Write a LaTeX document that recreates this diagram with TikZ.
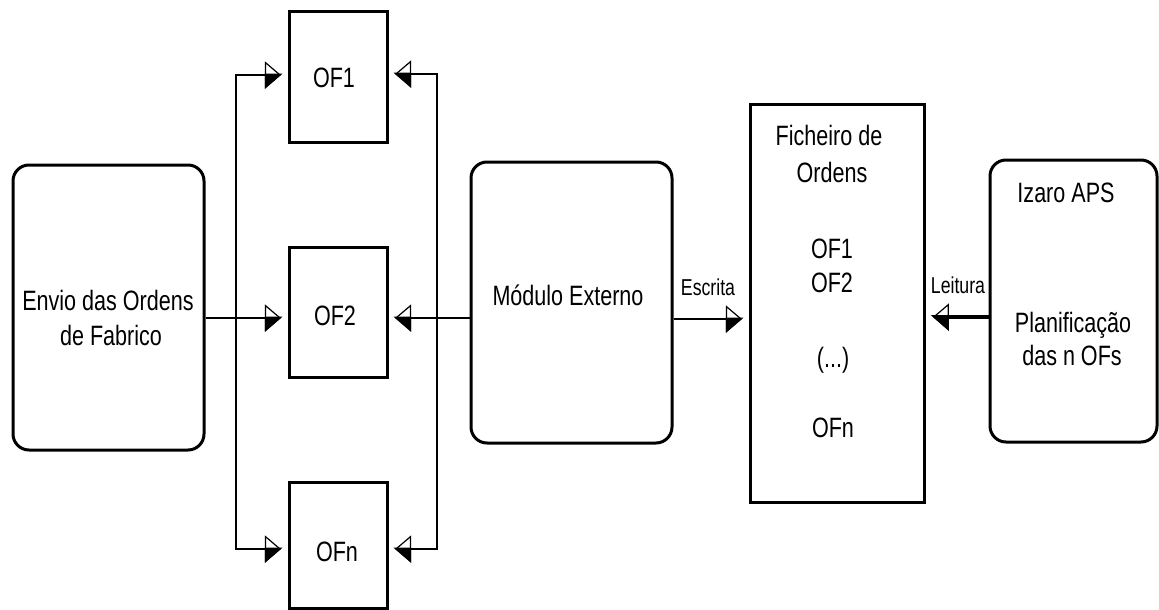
\documentclass[tikz,border=0pt]{standalone}
\usepackage{fontspec}
\setmainfont{Liberation Sans}[FakeStretch=0.77]
\usetikzlibrary{arrows.meta}
\begin{document}
\begin{tikzpicture}[x=1pt,y=-1pt,
  box/.style={draw, line width=3pt, inner sep=0pt},
  rbox/.style={box, rounded corners=16pt},
  txt/.style={font=\fontsize{28}{34}\selectfont, inner sep=0pt, anchor=base},
  lbl/.style={font=\fontsize{23}{28}\selectfont, inner sep=0pt, anchor=base},
  conn/.style={line width=2.6pt, line join=miter},
  tipR/.tip={Triangle[open, length=16pt, width=27pt, line width=1.2pt, sep=-16pt] Triangle[harpoon, swap, length=16pt, width=27pt]},
  tipL/.tip={Triangle[open, length=16pt, width=27pt, line width=1.2pt, sep=-16pt] Triangle[harpoon, length=16pt, width=27pt]},
  arrR/.style={conn, -{tipR}, shorten >=5pt},
  arrL/.style={conn, -{tipL}, shorten >=5pt},
  arrsR/.style={conn, {tipR}-{tipR}, shorten >=5pt, shorten <=5pt},
  arrsL/.style={conn, {tipL}-{tipL}, shorten >=5pt, shorten <=5pt}]
\useasboundingbox (0,0) rectangle (1159,610);

% boxes
\node[rbox, minimum width=191pt, minimum height=285pt] (envio) at (108.5,307.5) {};
\node[box, minimum width=98pt, minimum height=130pt] (of1) at (338,77) {};
\node[box, minimum width=98pt, minimum height=130pt] (of2) at (338,312) {};
\node[box, minimum width=98pt, minimum height=126pt] (ofn) at (338,545) {};
\node[rbox, minimum width=201pt, minimum height=281pt] (modulo) at (571.5,302.5) {};
\node[box, minimum width=174pt, minimum height=398pt] (fich) at (837,303) {};
\node[rbox, minimum width=167pt, minimum height=282pt] (izaro) at (1073.5,301) {};

% texts
\node[txt] (t-envio1) at (108,310) {Envio das Ordens};
\node[txt] (t-envio2) at (111,345) {de Fabrico};
\node[txt] (t-of1) at (334,87) {OF1};
\node[txt] (t-of2) at (335,325) {OF2};
\node[txt] (t-ofn) at (337,561) {OFn};
\node[txt] (t-mod) at (568,305) {Módulo Externo};
\node[txt] (t-fich1) at (829,145) {Ficheiro de};
\node[txt] (t-fich2) at (832,182) {Ordens};
\node[txt] (t-f1) at (832,258) {OF1};
\node[txt] (t-f2) at (832,292) {OF2};
\node[txt] (t-fd) at (833,367) {(...)};
\node[txt] (t-fn) at (833,437) {OFn};
\node[txt] (t-iz1) at (1066,202) {Izaro APS};
\node[txt] (t-iz2) at (1073,332) {Planificação};
\node[txt] (t-iz3) at (1072,365) {das n OFs};
\node[lbl] (t-esc) at (708,295) {Escrita};
\node[lbl] (t-lei) at (958,293) {Leitura};

% row coordinates
\coordinate (lbtop) at (236,75);
\coordinate (lbbot) at (236,549);
\coordinate (rbtop) at (437,74);
\coordinate (rbbot) at (437,549);
\coordinate (row2) at (0,318);
\coordinate (rowe) at (0,319);
\coordinate (rowl) at (0,317);

% left bus
\draw[arrsR] (lbtop -| of1.west) -- (lbtop) -- (lbbot) -- (lbbot -| ofn.west);
\draw[arrR] (envio.east |- row2) -- (of2.west |- row2);
% right bus
\draw[arrsL] (rbtop -| of1.east) -- (rbtop) -- (rbbot) -- (rbbot -| ofn.east);
\draw[arrL] (modulo.west |- row2) -- (of2.east |- row2);
% escrita / leitura
\draw[arrR] (modulo.east |- rowe) -- (fich.west |- rowe);
\draw[arrL, line width=4.4pt] (izaro.west |- rowl) -- (fich.east |- rowl);
\end{tikzpicture}
\end{document}
